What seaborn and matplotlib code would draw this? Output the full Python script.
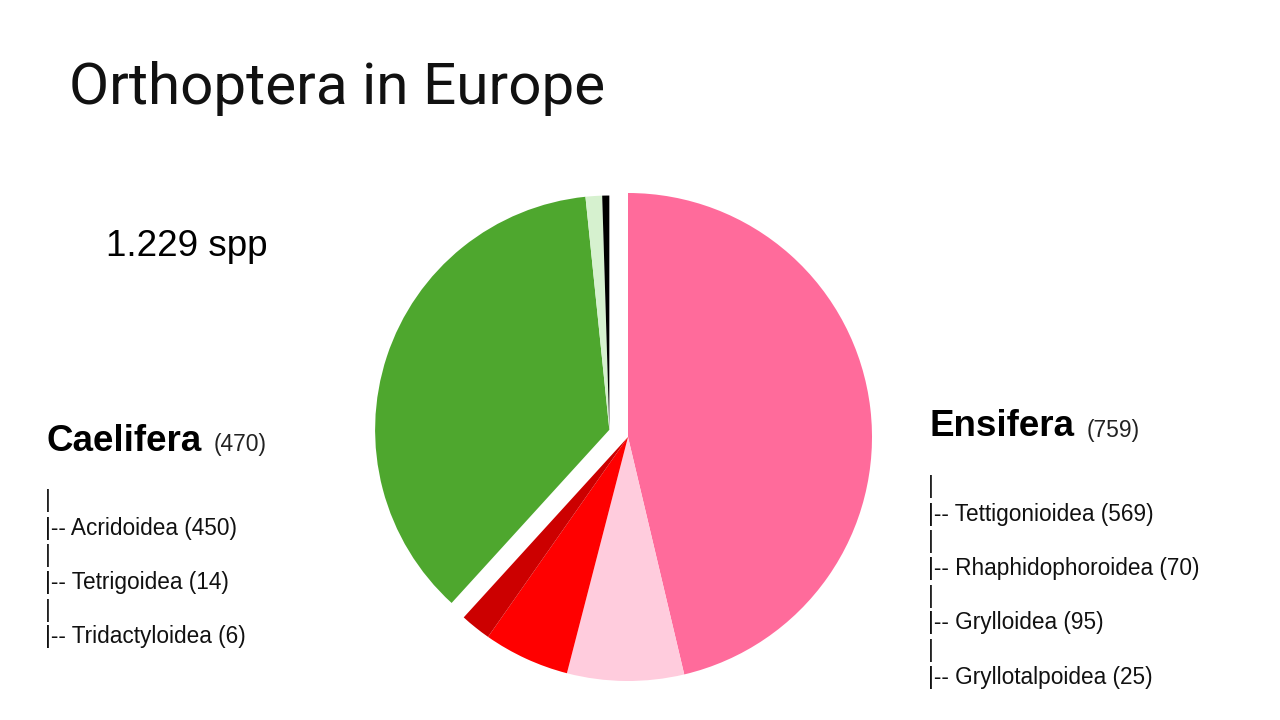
import matplotlib
matplotlib.use("Agg")
import matplotlib.pyplot as plt
import seaborn as sns
import numpy as np

# ---- data ----
title = "Orthoptera in Europe"
total_label = "1.229 spp"
groups = ["Ensifera", "Caelifera"]
group_totals = [759, 470]

ensifera_names = ["Tettigonioidea", "Rhaphidophoroidea", "Grylloidea", "Gryllotalpoidea"]
ensifera_counts = [569, 70, 95, 25]
caelifera_names = ["Acridoidea", "Tetrigoidea", "Tridactyloidea"]
caelifera_counts = [450, 14, 6]

# order of slices as drawn (clockwise from 12 o'clock)
pie_labels = ["Tettigonioidea", "Grylloidea", "Rhaphidophoroidea", "Gryllotalpoidea",
              "Acridoidea", "Tetrigoidea", "Tridactyloidea"]
pie_values = [569, 95, 70, 25, 450, 14, 6]
pie_colors = ["#FF6B9B", "#FFCCDD", "#FF0000", "#CC0000", "#4EA72E", "#D6F1CF", "#000000"]
pie_group = ["Ensifera"] * 4 + ["Caelifera"] * 3

sns.set_theme(style="white")
plt.rcParams["font.family"] = ["Liberation Sans", "DejaVu Sans"]

W, H = 1280, 720
fig = plt.figure(figsize=(W / 100, H / 100), dpi=100)
fig.patch.set_facecolor("white")

# pie axes: center at pixel (628, 437), radius 244 px
cx, cy, R = 628, 437, 244
lim = 1.3
side = 2 * R * lim
ax = fig.add_axes([(cx - side / 2) / W, (H - cy - side / 2) / H, side / W, side / H])
wedges, _ = ax.pie(pie_values, colors=pie_colors, startangle=90, counterclock=False,
                   wedgeprops=dict(linewidth=0))
ax.set_xlim(-lim, lim)
ax.set_ylim(-lim, lim)
ax.set_aspect("equal")
ax.axis("off")

# explode Caelifera as a block along its mid direction
tot = sum(pie_values)
ens = sum(v for v, g in zip(pie_values, pie_group) if g == "Ensifera")
mid_cw = (ens + (tot - ens) / 2) / tot * 360.0
theta = np.deg2rad(90 - mid_cw)
off = 20 / R
for w, g in zip(wedges, pie_group):
    if g == "Caelifera":
        w.set_center((off * np.cos(theta), off * np.sin(theta)))
        w.set_radius(0.96)


def ftext(x, y, s, **kw):
    fig.text(x / W, 1 - y / H, s, **kw)


ftext(69, 89, title, fontsize=42, family=["Roboto", "DejaVu Sans"], va="center", ha="left",
      color="#111111")
ftext(106, 246, total_label, fontsize=26.5, va="center", ha="left", color="black")

# Caelifera block
ftext(46, 441, groups[1], fontsize=26.5, fontweight="bold", va="center", ha="left",
      color="black")
ftext(214, 445, f"({group_totals[1]})", fontsize=16.5, va="center", ha="left", color="#222222")
y0 = 501
for i, (n, c) in enumerate(zip(caelifera_names, caelifera_counts)):
    ftext(45, y0 + i * 54.5, "|", fontsize=16.3, va="center", ha="left", color="#222222")
    ftext(45, y0 + 27 + i * 54.5, f"|-- {n} ({c})", fontsize=16.3, va="center", ha="left",
          color="#111111")

# Ensifera block
ftext(929, 426, groups[0], fontsize=26.5, fontweight="bold", va="center", ha="left",
      color="black")
ftext(1087, 430, f"({group_totals[0]})", fontsize=16.5, va="center", ha="left", color="#222222")
y0 = 487
for i, (n, c) in enumerate(zip(ensifera_names, ensifera_counts)):
    ftext(928, y0 + i * 54.5, "|", fontsize=16.3, va="center", ha="left", color="#222222")
    ftext(928, y0 + 27 + i * 54.5, f"|-- {n} ({c})", fontsize=16.3, va="center", ha="left",
          color="#111111")

fig.savefig("out.png", dpi=100, facecolor="white")
